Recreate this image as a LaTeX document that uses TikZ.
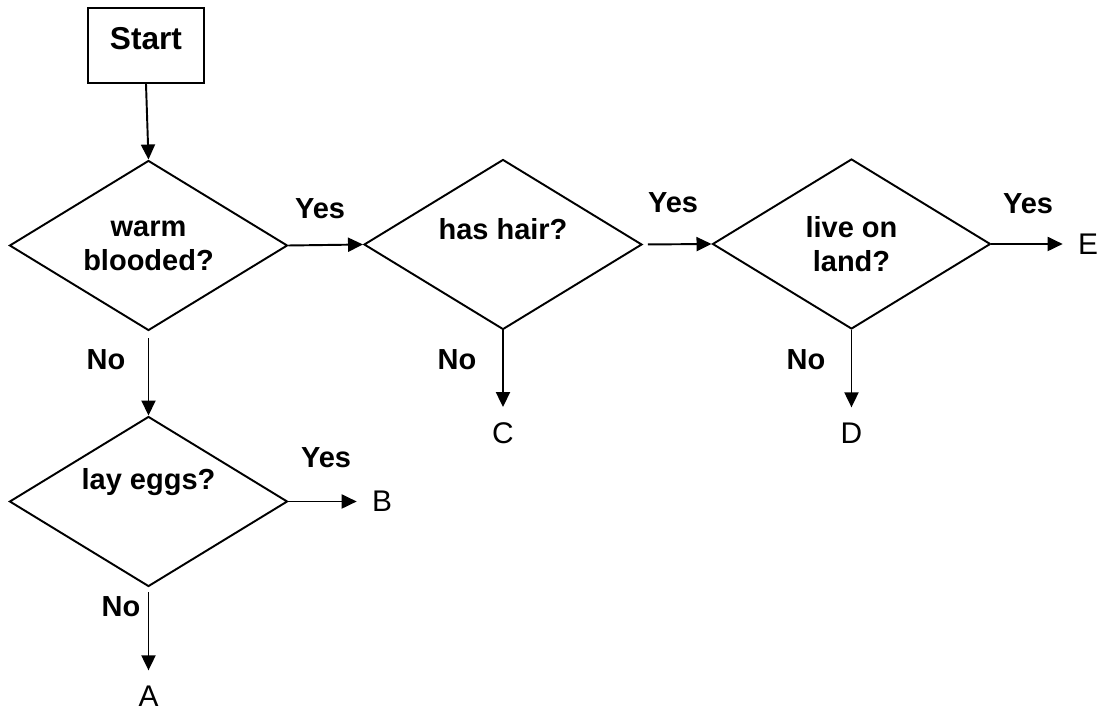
\documentclass[tikz,border=0pt]{standalone}
\usepackage{fontspec}
\setmainfont{Liberation Sans}
\usetikzlibrary{shapes.geometric,arrows.meta}

\begin{document}
\begin{tikzpicture}[scale=0.2]
\tikzstyle{every node}+=[inner sep=0pt]
\tikzstyle{decision}=[draw, black, line width=1.1pt, shape=diamond, aspect=1.63, minimum width=5.56cm, minimum height=3.4cm, align=center, font=\fontsize{16.5}{19.5}\selectfont\bfseries]
\tikzstyle{startbox}=[draw, black, line width=1.1pt, minimum width=2.32cm, minimum height=1.5cm, text depth=0.3cm, font=\fontsize{18}{21}\selectfont\bfseries]
\tikzstyle{answer}=[font=\fontsize{16.5}{19.5}\selectfont\bfseries]
\tikzstyle{outcome}=[inner sep=0.3cm, font=\fontsize{17}{20}\selectfont]
\tikzstyle{flow}=[black, line width=1.1pt, -{Triangle[length=0.3cm,width=0.28cm]}]
\useasboundingbox (0,0) rectangle (110.5,-71);
% boxes
\node [startbox] (start) at (14.6,-4.55) {Start};
\node [decision] (warm) at (14.85,-24.55) {warm\\blooded?};
\node [decision, text depth=0.64cm] (hair) at (50.3,-24.45) {has hair?};
\node [decision] (land) at (85.15,-24.4) {live on\\land?};
\node [decision, text depth=0.92cm] (eggs) at (14.85,-50.15) {lay eggs?};
% end points
\node [outcome] (outA) at (14.85,-69.6) {A};
\node [outcome] (outB) at (38.2,-50.15) {B};
\node [outcome] (outC) at (50.3,-43.3) {C};
\node [outcome] (outD) at (85.15,-43.3) {D};
\node [outcome] (outE) at (108.8,-24.4) {E};
% answers
\node [answer] (yesWarm) at (32.0,-20.9) {Yes};
\node [answer] (yesHair) at (67.3,-20.3) {Yes};
\node [answer] (yesLand) at (102.8,-20.4) {Yes};
\node [answer] (yesEggs) at (32.6,-45.8) {Yes};
\node [answer] (noWarm) at (10.6,-36.0) {No};
\node [answer] (noHair) at (45.7,-36.0) {No};
\node [answer] (noLand) at (80.6,-36.0) {No};
\node [answer] (noEggs) at (12.1,-60.7) {No};
% arrows
\draw [flow] (start.south) -- (warm.north);
\draw [flow] (warm.east) -- (hair.west);
\draw [flow, shorten <=0.1cm] (hair.east) -- (land.west);
\draw [flow] (land.east) -- (outE.west);
\draw [flow, shorten <=0.14cm] (warm.south) -- (eggs.north);
\draw [flow] (hair.south) -- (outC.north);
\draw [flow] (land.south) -- (outD.north);
\draw [flow] (eggs.east) -- (outB.west);
\draw [flow, shorten <=0.1cm] (eggs.south) -- (outA.north);
\end{tikzpicture}
\end{document}
